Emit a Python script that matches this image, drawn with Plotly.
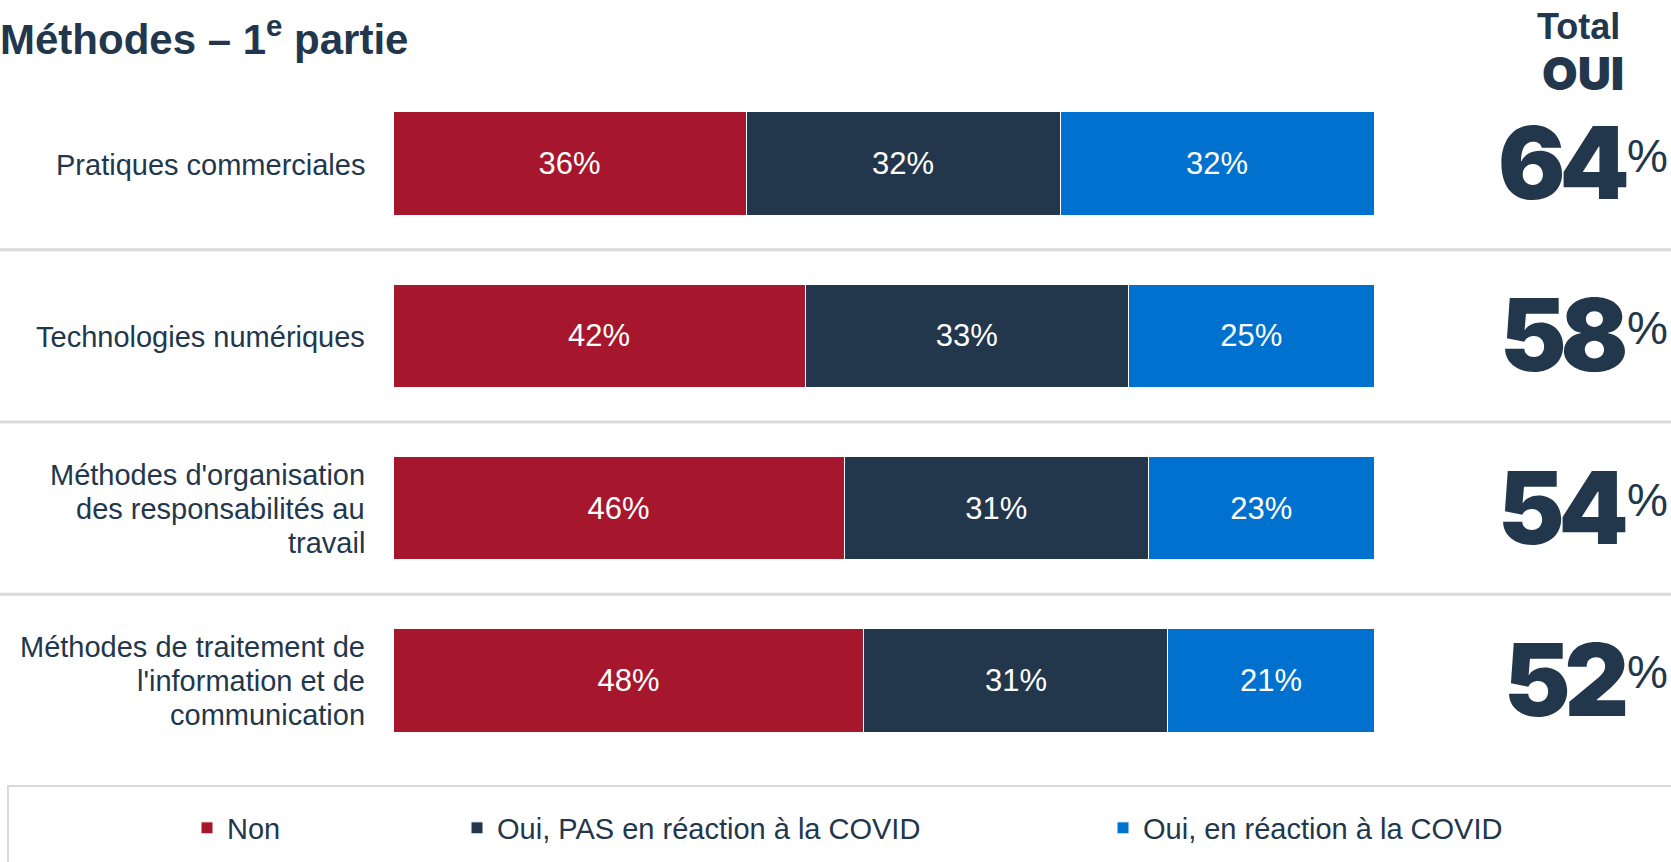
import plotly.graph_objects as go

# ---- data ----
categories = [
    "Pratiques commerciales",
    "Technologies numériques",
    "Méthodes d'organisation<br>des responsabilités au<br>travail",
    "Méthodes de traitement de<br>l'information et de<br>communication",
]
non = [36, 42, 46, 48]
oui_pas_covid = [32, 33, 31, 31]
oui_covid = [32, 25, 23, 21]
series_names = ["Non", "Oui, PAS en réaction à la COVID", "Oui, en réaction à la COVID"]
series_colors = ["#A6172D", "#22374B", "#0071CE"]

title_text = "Méthodes – 1<sup>e</sup> partie"

# ---- layout helpers (page is 1671 x 862 px) ----
W, H = 1671, 862
NAVY = "#22374B"
GRID = "#DADADA"
FONT = "Liberation Sans, Arial, sans-serif"
HEAVY = "Inter, Lato, sans-serif"


def fx(px):
    return px / W


def fy(px):
    return 1 - px / H


fig = go.Figure()

legend_ids = ["legend", "legend2", "legend3"]
for name, vals, color, lg in zip(series_names, [non, oui_pas_covid, oui_covid], series_colors, legend_ids):
    fig.add_trace(go.Bar(
        y=categories,
        x=vals,
        name=name,
        orientation="h",
        marker=dict(color=color, line=dict(color="white", width=1)),
        width=0.6,
        text=[f"{v}%" for v in vals],
        textposition="inside",
        insidetextanchor="middle",
        constraintext="none",
        textfont=dict(family=FONT, size=31, color="white"),
        hoverinfo="skip",
        legend=lg,
    ))

annotations = []

# category labels, right aligned, one annotation per line
line_gap = 34
for cat in categories:
    lines = cat.split("<br>")
    n = len(lines)
    for j, ln in enumerate(lines):
        annotations.append(dict(
            xref="paper", yref="y", x=fx(367), y=cat,
            xanchor="right", yanchor="middle",
            yshift=((n - 1) / 2 - j) * line_gap - 1,
            text=ln, showarrow=False,
            font=dict(family=FONT, size=29, color=NAVY),
        ))

# total "oui" per row
totals = [a + b for a, b in zip(oui_pas_covid, oui_covid)]
for cat, tot in zip(categories, totals):
    annotations.append(dict(
        xref="paper", yref="y", x=fx(1628), y=cat,
        xanchor="right", yanchor="middle", yshift=1,
        text=f"<span style='letter-spacing:-6px'>{tot}</span>", showarrow=False,
        font=dict(family=HEAVY, size=100, color=NAVY, weight=900),
    ))
    annotations.append(dict(
        xref="paper", yref="y", x=fx(1625), y=cat,
        xanchor="left", yanchor="middle", yshift=8,
        text="%", showarrow=False,
        font=dict(family=FONT, size=46, color=NAVY),
    ))

# header above totals
annotations.append(dict(
    xref="paper", yref="paper", x=fx(1578), y=fy(27),
    xanchor="center", yanchor="middle", text="<b>Total</b>", showarrow=False,
    font=dict(family=FONT, size=36, color=NAVY),
))
annotations.append(dict(
    xref="paper", yref="paper", x=fx(1583), y=fy(73),
    xanchor="center", yanchor="middle", text="OUI", showarrow=False,
    font=dict(family=HEAVY, size=46, color=NAVY, weight=900),
))

# chart title
annotations.append(dict(
    xref="paper", yref="paper", x=fx(-2), y=fy(36),
    xanchor="left", yanchor="middle", text=f"<b>{title_text}</b>", showarrow=False,
    font=dict(family=FONT, size=42, color=NAVY),
))

# row separators
shapes = []
for k in range(len(categories) - 1):
    shapes.append(dict(
        type="line", xref="paper", yref="y", x0=0, x1=1, y0=k + 0.5, y1=k + 0.5,
        line=dict(color=GRID, width=3), layer="below",
    ))
# legend frame
shapes.append(dict(
    type="rect", xref="paper", yref="paper", x0=fx(8), x1=fx(W + 10), y0=fy(H + 10), y1=fy(786),
    line=dict(color=GRID, width=2), fillcolor="rgba(0,0,0,0)",
))

legend_common = dict(
    orientation="h", yanchor="middle", xanchor="left", y=fy(828),
    font=dict(family=FONT, size=29, color=NAVY),
    bgcolor="rgba(0,0,0,0)", itemwidth=30, itemclick=False, itemdoubleclick=False,
)

fig.update_layout(
    width=W, height=H,
    margin=dict(l=0, r=0, t=0, b=0),
    paper_bgcolor="white", plot_bgcolor="white",
    barmode="stack",
    bargap=0.4,
    xaxis=dict(domain=[fx(393), fx(1374)], range=[0, 100], visible=False, fixedrange=True),
    yaxis=dict(domain=[fy(766.5), fy(77.5)], autorange="reversed", visible=False, fixedrange=True),
    legend=dict(x=fx(187), **legend_common),
    legend2=dict(x=fx(457), **legend_common),
    legend3=dict(x=fx(1103), **legend_common),
    annotations=annotations,
    shapes=shapes,
    showlegend=True,
)

fig.write_html("out.html")
